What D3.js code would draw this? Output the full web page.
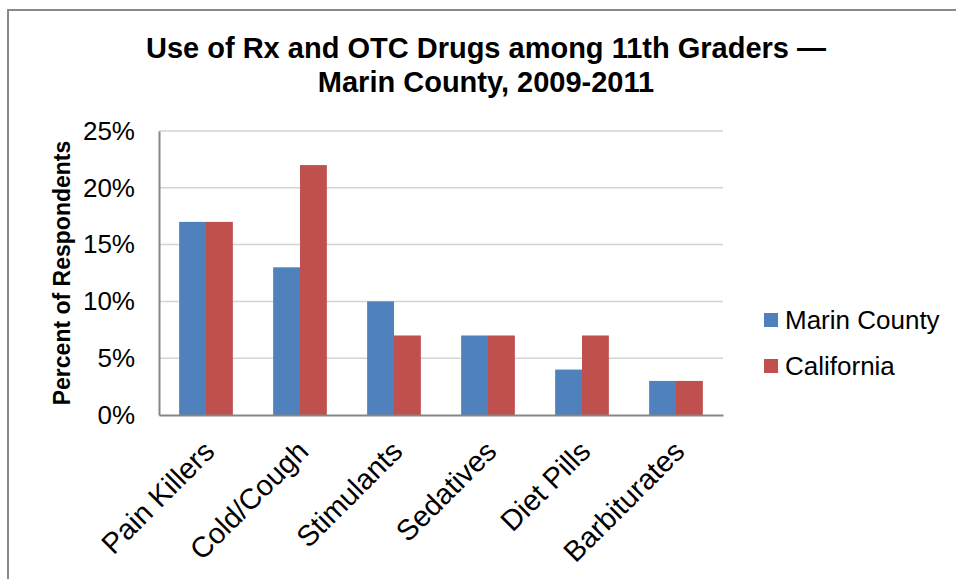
<!doctype html>
<html lang="en">
<head>
<meta charset="utf-8">
<title>Use of Rx and OTC Drugs among 11th Graders</title>
<script src="https://cdn.jsdelivr.net/npm/d3@7"></script>
<style>
body{
	margin:0px;
	padding:0px;
	background:#fff;
}
svg{
	display:block;
	font-family:"Liberation Sans", Arial, sans-serif;
}
</style>
</head>
<body>
<svg id="chartSvg"></svg>
<script>
var categories = ["Pain Killers","Cold/Cough","Stimulants","Sedatives","Diet Pills","Barbiturates"];
var seriesNames = ["Marin County","California"];
var marinValues = [17,13,10,7,4,3];
var californiaValues = [17,22,7,7,7,3];
var yTicks = [0,5,10,15,20,25];
var titleLines = ["Use of Rx and OTC Drugs among 11th Graders \u2014","Marin County, 2009-2011"];
var colors = ["#4f81bd","#c0504d"];

function drawChart(){
	var width = 956, height = 579;
	var pLeft = 159, pRight = 723, pTop = 131, pBottom = 415;

	var svg = d3.select("#chartSvg").attr("width", width).attr("height", height);

	//frame
	svg.append("rect")
		.attr("x", 8).attr("y", 10)
		.attr("width", 1000).attr("height", 700)
		.attr("fill", "#fff")
		.attr("stroke", "#898989")
		.attr("stroke-width", 2);

	//title
	svg.append("g").selectAll("text")
		.data(titleLines)
		.enter().append("text")
		.attr("x", 486)
		.attr("y", function(d,i){return 58 + i*34;})
		.attr("text-anchor","middle")
		.attr("font-size", 29)
		.attr("font-weight","bold")
		.attr("fill","#000")
		.text(function(d){return d;});

	var x0 = d3.scaleBand().domain(categories).range([pLeft, pRight]).paddingInner(0).paddingOuter(0);
	var x1 = d3.scaleBand().domain(seriesNames).range([0, x0.bandwidth()]).paddingInner(0).paddingOuter(0.75);
	var y = d3.scaleLinear().domain([0,25]).range([pBottom, pTop]);

	//grid lines
	svg.append("g").selectAll("line")
		.data(yTicks.slice(1))
		.enter().append("line")
		.attr("x1", pLeft).attr("x2", pRight)
		.attr("y1", function(d){return y(d);})
		.attr("y2", function(d){return y(d);})
		.attr("stroke","#d4d4d4")
		.attr("stroke-width",1.5);

	//y axis
	var yAxis = d3.axisLeft(y).tickValues(yTicks).tickSize(0).tickPadding(24).tickFormat(function(d){return d + "%";});
	var yG = svg.append("g").attr("transform","translate("+pLeft+",0)").call(yAxis);
	yG.select(".domain").attr("stroke","#868686").attr("stroke-width",2);
	yG.selectAll("text").attr("font-size",26).attr("font-family","'Liberation Sans', Arial, sans-serif").attr("fill","#000");

	//bars
	var data = [marinValues, californiaValues];
	for(var s=0;s<data.length;s++){
		svg.append("g").selectAll("rect")
			.data(data[s])
			.enter().append("rect")
			.attr("x", function(d,i){return x0(categories[i]) + x1(seriesNames[s]);})
			.attr("y", function(d){return y(d);})
			.attr("width", x1.bandwidth())
			.attr("height", function(d){return pBottom - y(d);})
			.attr("fill", colors[s]);
	}

	//x axis
	var xAxis = d3.axisBottom(x0).tickSize(0).tickFormat("");
	var xG = svg.append("g").attr("transform","translate(0,"+pBottom+")").call(xAxis);
	xG.select(".domain").attr("stroke","#868686").attr("stroke-width",2);

	//x labels
	svg.append("g").selectAll("text")
		.data(categories)
		.enter().append("text")
		.attr("transform", function(d){return "translate("+(x0(d)+x0.bandwidth()/2+3)+","+(pBottom+31)+") rotate(-45)";})
		.attr("text-anchor","end")
		.attr("dy","0.35em")
		.attr("font-size",29)
		.attr("fill","#000")
		.text(function(d){return d;});

	//axis title
	svg.append("text")
		.attr("transform","translate(62,"+((pTop+pBottom)/2)+") rotate(-90)")
		.attr("text-anchor","middle")
		.attr("dy","0.35em")
		.attr("font-size",23)
		.attr("font-weight","bold")
		.attr("fill","#000")
		.text("Percent of Respondents");

	//legend
	var leg = svg.append("g").selectAll("g")
		.data(seriesNames)
		.enter().append("g")
		.attr("transform", function(d,i){return "translate(764,"+(320 + i*46)+")";});
	leg.append("rect")
		.attr("x",0).attr("y",-7)
		.attr("width",14).attr("height",14)
		.attr("fill", function(d,i){return colors[i];});
	leg.append("text")
		.attr("x",21)
		.attr("y",0)
		.attr("dy","0.35em")
		.attr("font-size",26)
		.attr("fill","#000")
		.text(function(d){return d;});
}
drawChart();
</script>
</body>
</html>
